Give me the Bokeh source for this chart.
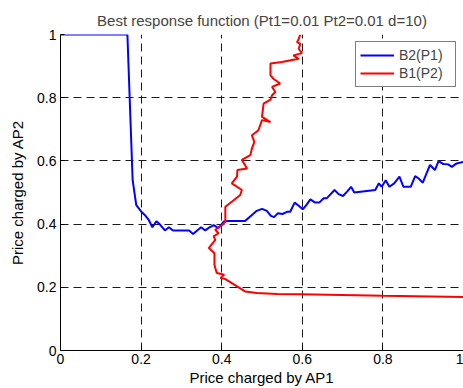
from bokeh.plotting import figure
from bokeh.models import Legend, LegendItem, FixedTicker
from bokeh.embed import file_html
from bokeh.resources import INLINE

title_text = "Best response function (Pt1=0.01 Pt2=0.01 d=10)"
x_label = "Price charged by AP1"
y_label = "Price charged by AP2"
ticks = [0, 0.2, 0.4, 0.6, 0.8, 1]

# B2(P1): best response of AP2 to AP1's price
b2_x = [0.000, 0.166, 0.179, 0.188, 0.200, 0.209, 0.219, 0.228, 0.238, 0.248,
        0.259, 0.269, 0.279, 0.319, 0.329, 0.339, 0.349, 0.359, 0.370, 0.380,
        0.392, 0.405, 0.417, 0.458, 0.475, 0.487, 0.500, 0.512, 0.522, 0.530,
        0.539, 0.551, 0.562, 0.570, 0.581, 0.591, 0.601, 0.610, 0.620, 0.632,
        0.642, 0.653, 0.661, 0.680, 0.690, 0.701, 0.711, 0.721, 0.729, 0.781,
        0.790, 0.797, 0.807, 0.816, 0.828, 0.841, 0.851, 0.869, 0.880, 0.888,
        0.899, 0.908, 0.917, 0.929, 0.938, 0.950, 0.962, 0.971, 0.983, 1.000]
b2_y = [1.000, 1.000, 0.539, 0.460, 0.440, 0.429, 0.413, 0.390, 0.409, 0.397,
        0.380, 0.390, 0.380, 0.380, 0.369, 0.380, 0.390, 0.380, 0.390, 0.397,
        0.387, 0.408, 0.410, 0.410, 0.429, 0.442, 0.448, 0.442, 0.426, 0.422,
        0.434, 0.432, 0.439, 0.439, 0.468, 0.458, 0.447, 0.460, 0.478, 0.468,
        0.468, 0.482, 0.482, 0.508, 0.495, 0.489, 0.503, 0.518, 0.500, 0.508,
        0.529, 0.518, 0.539, 0.518, 0.529, 0.550, 0.518, 0.518, 0.552, 0.545,
        0.531, 0.560, 0.587, 0.571, 0.599, 0.590, 0.589, 0.581, 0.592, 0.597]

# B1(P2): best response of AP1 to AP2's price
b1_x = [1.000, 0.801, 0.595, 0.537, 0.487, 0.458, 0.438, 0.425, 0.409, 0.397,
        0.406, 0.388, 0.384, 0.382, 0.382, 0.368, 0.384, 0.380, 0.392, 0.384,
        0.401, 0.409, 0.409, 0.425, 0.446, 0.450, 0.425, 0.438, 0.439, 0.463,
        0.450, 0.471, 0.475, 0.481, 0.475, 0.491, 0.500, 0.521, 0.500, 0.504,
        0.521, 0.525, 0.533, 0.525, 0.545, 0.528, 0.521, 0.521, 0.549, 0.591,
        0.578, 0.599, 0.591, 0.595, 0.587, 0.591, 0.595]
b1_y = [0.169, 0.173, 0.178, 0.179, 0.182, 0.187, 0.203, 0.213, 0.226, 0.229,
        0.240, 0.245, 0.261, 0.271, 0.308, 0.324, 0.350, 0.361, 0.371, 0.382,
        0.397, 0.408, 0.455, 0.471, 0.492, 0.508, 0.529, 0.550, 0.571, 0.576,
        0.603, 0.618, 0.639, 0.660, 0.681, 0.697, 0.729, 0.723, 0.739, 0.781,
        0.794, 0.808, 0.818, 0.834, 0.845, 0.860, 0.871, 0.908, 0.913, 0.923,
        0.934, 0.941, 0.955, 0.970, 0.976, 0.986, 1.000]

FONT = "Liberation Sans"

p = figure(width=463, height=388, x_range=(0, 1), y_range=(0, 1),
           output_backend="svg", toolbar_location=None,
           min_border_left=60, min_border_right=0, min_border_top=34,
           min_border_bottom=35)
p.title.text = title_text
p.title.align = "center"
p.title.text_font = FONT
p.title.text_font_size = "15px"
p.title.text_font_style = "normal"
p.title.standoff = 12
p.outline_line_color = None
p.background_fill_color = "white"
p.border_fill_color = "white"

for ax in (p.xaxis, p.yaxis):
    ax.ticker = FixedTicker(ticks=ticks)
    ax.major_label_text_font = FONT
    ax.major_label_text_font_size = "14px"
    ax.major_label_text_color = "black"
    ax.axis_label_text_font = FONT
    ax.axis_label_text_font_size = "15px"
    ax.axis_label_text_font_style = "normal"
    ax.axis_label_text_color = "black"
    ax.axis_line_color = "black"
    ax.major_tick_line_color = "black"
    ax.major_tick_in = 4
    ax.major_tick_out = 0
    ax.minor_tick_line_color = None
p.xaxis.major_label_standoff = 3
p.xaxis.axis_label_standoff = 2
p.yaxis.major_label_standoff = 4
p.yaxis.axis_label_standoff = 8
p.xaxis.axis_label = x_label
p.yaxis.axis_label = y_label
p.xaxis.major_label_overrides = {0: "0", 1: "1"}
p.yaxis.major_label_overrides = {0: "0", 1: "1"}

p.grid.grid_line_color = "#1a1a1a"
p.grid.grid_line_dash = "8 5"
p.grid.grid_line_width = 1
p.grid.ticker = FixedTicker(ticks=ticks)

r1 = p.line(b2_x, b2_y, line_color="#0000ff", line_width=2)
r2 = p.line(b1_x, b1_y, line_color="#ff0000", line_width=2)

legend = Legend(items=[LegendItem(label="B2(P1)", renderers=[r1]),
                       LegendItem(label="B1(P2)", renderers=[r2])],
                location="top_right", margin=7, padding=4, spacing=0,
                label_height=18, glyph_height=18, glyph_width=34,
                label_width=52, label_standoff=5,
                label_text_font=FONT, label_text_font_size="14px",
                border_line_color="black", border_line_width=1,
                background_fill_color="white", background_fill_alpha=1)
p.add_layout(legend)

open("out.html", "w").write(file_html(p, INLINE))
